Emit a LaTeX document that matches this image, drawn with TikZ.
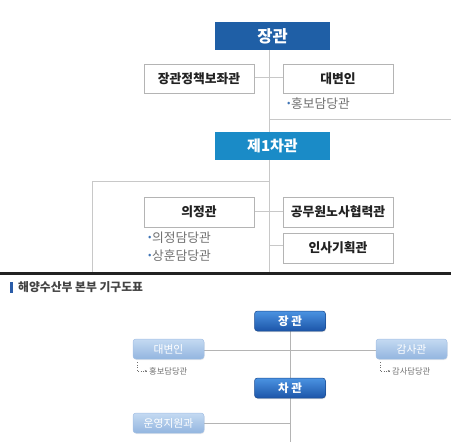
\documentclass[tikz,border=0pt]{standalone}
\usepackage{fontspec}
\setmainfont{Noto Sans CJK KR}
\newfontfamily\kr{Noto Sans CJK KR}
\usetikzlibrary{shadows,arrows.meta}
\definecolor{navy}{HTML}{1F5FA6}
\definecolor{teal}{HTML}{1A8BC7}
\definecolor{lgray}{HTML}{C8C8C8}
\definecolor{bgray}{HTML}{B4B4B4}
\definecolor{tdark}{HTML}{222222}
\definecolor{tsub}{HTML}{707070}
\definecolor{bul}{HTML}{3F74B5}
\definecolor{dtop}{HTML}{4B93E2}
\definecolor{dbot}{HTML}{1C55A8}
\definecolor{dedge}{HTML}{1A4A90}
\definecolor{ltop}{HTML}{C4DAF2}
\definecolor{lbot}{HTML}{93B5DF}
\definecolor{ledge}{HTML}{A4C0E4}
\definecolor{bar}{HTML}{2A5CA8}
\tikzset{
  head/.style={fill=#1, draw=none, minimum width=115pt, minimum height=28pt, inner sep=0pt, text=white, font=\kr\bfseries},
  wbox/.style={draw=bgray, line width=0.8pt, fill=white, minimum width=110pt, minimum height=29pt, inner sep=0pt, text=tdark, font=\kr\bfseries\fontsize{12.8}{14}\selectfont},
  sub/.style={anchor=west, inner sep=0pt, text=tsub, font=\kr\fontsize{12.8}{14}\selectfont},
  conn/.style={draw=lgray, line width=0.8pt},
  dbox/.style={rounded corners=3pt, draw=dedge, line width=0.5pt, top color=dtop, bottom color=dbot, minimum width=71pt, minimum height=20pt, inner sep=0pt, text=white, font=\kr\bfseries\fontsize{11.5}{13}\selectfont, drop shadow={opacity=0.25, shadow xshift=0.6pt, shadow yshift=-1pt}},
  lbox/.style={rounded corners=3pt, draw=ledge, line width=0.5pt, top color=ltop, bottom color=lbot, minimum width=71pt, minimum height=20pt, inner sep=0pt, text=white, font=\kr\fontsize{10.8}{12}\selectfont, drop shadow={opacity=0.15, shadow xshift=0.6pt, shadow yshift=-1pt}},
  sub2/.style={anchor=west, inner sep=0pt, text=tsub, font=\kr\fontsize{8.3}{10}\selectfont},
  conn2/.style={draw=bgray, line width=0.8pt},
}
\newcommand{\bulmark}{{\color{bul}\raisebox{2.6pt}{\fontsize{10}{10}\selectfont •}}\hspace{0.5pt}}
\begin{document}
\begin{tikzpicture}[x=1pt,y=-1pt]
\useasboundingbox (0,0) rectangle (451,442);
% ---------- top chart ----------
\coordinate (r1) at (451,119);
\coordinate (spineEnd) at (269,273);
\coordinate (lft) at (92,181);
\coordinate (lftEnd) at (92,273);
\draw[conn] (269,50) -- (269,132);
\draw[conn] (269,160) -- (spineEnd);
\draw[conn] (254,77) -- (283,77);
\draw[conn] (269,119) -- (r1);
\draw[conn] (269,181) -- (lft) -- (lftEnd);
\draw[conn] (254,211) -- (283,211);
\draw[conn] (283,245) -- (269,245);
\node[head=navy, font=\kr\bfseries\fontsize{16.5}{18}\selectfont] (min) at (272.5,36) {장관};
\node[wbox] (aide) at (199,78.5) {장관정책보좌관};
\node[wbox] (spk) at (338,78.5) {대변인};
\node[sub] (pr) at (287,104) {\bulmark 홍보담당관};
\node[head=teal, font=\kr\bfseries\fontsize{15}{17}\selectfont] (vm) at (272.5,146) {제1차관};
\node[wbox, minimum height=30pt] (uj) at (199,212) {의정관};
\node[wbox, minimum height=30pt] (lab) at (338,212) {공무원노사협력관};
\node[wbox, minimum height=30pt] (hr) at (338,248) {인사기획관};
\node[sub] (uj1) at (148,238) {\bulmark 의정담당관};
\node[sub] (uj2) at (148,256) {\bulmark 상훈담당관};
% separator
\coordinate (sepL) at (0,273.8);
\coordinate (sepR) at (451,273.8);
\draw[line width=2.8pt, tdark] (sepL) -- (sepR);
% ---------- bottom chart ----------
\fill[bar] (10,282) rectangle (13,292.5);
\node[anchor=west, inner sep=0pt, text=tdark!85, font=\kr\bfseries\fontsize{11.8}{13}\selectfont] (title) at (18,287.3) {해양수산부 본부 기구도표};
\coordinate (sp2) at (290,442);
\draw[conn2] (290,331) -- (sp2);
\draw[conn2] (204,350) -- (376,350);
\draw[conn2] (204,423) -- (290,423);
\node[dbox] (min2) at (290,321) {장 관};
\node[lbox] (spk2) at (168.5,349) {대변인};
\node[lbox] (aud) at (411.5,349) {감사관};
\node[dbox] (vm2) at (290,388) {차 관};
\node[lbox] (ops) at (168.5,423) {운영지원과};
\node[sub2] (pr2) at (149,371) {홍보담당관};
\node[sub2] (aud2) at (392,371) {감사담당관};
\draw[dotted, tsub, line width=0.5pt, -{Stealth[length=2.2pt,width=2pt]}] ([xshift=4pt,yshift=-3pt]spk2.south west) |- ([xshift=-2pt]pr2.west);
\draw[dotted, tsub, line width=0.5pt, -{Stealth[length=2.2pt,width=2pt]}] ([xshift=4pt,yshift=-3pt]aud.south west) |- ([xshift=-2pt]aud2.west);
\end{tikzpicture}
\end{document}
